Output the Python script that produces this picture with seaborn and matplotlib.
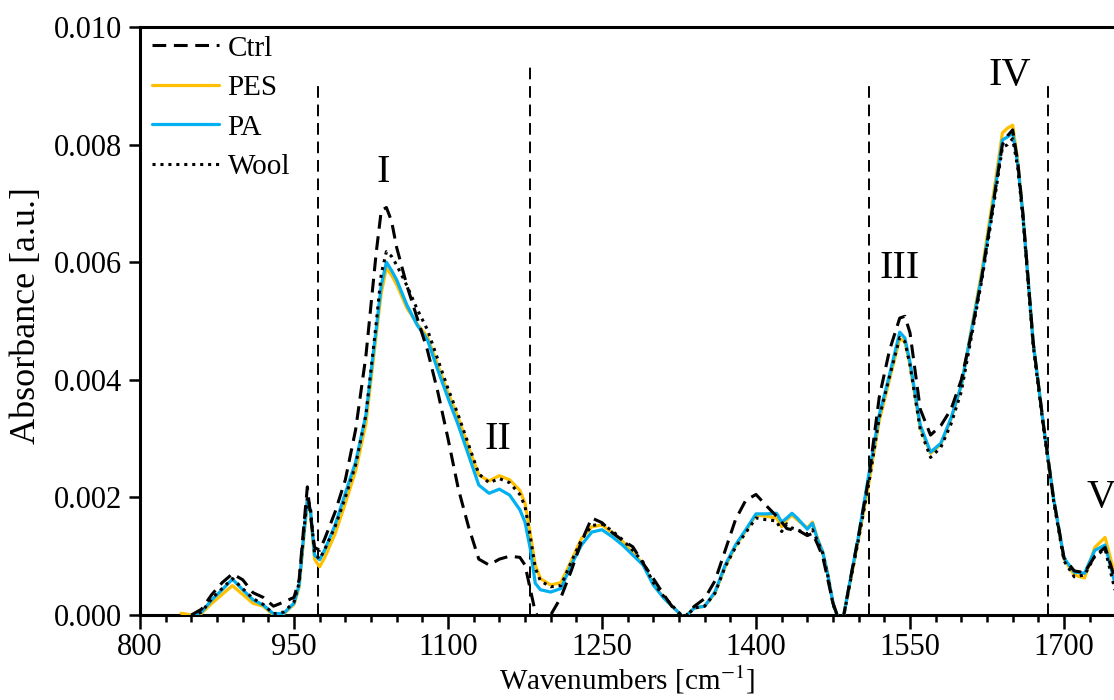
import numpy as np
import pandas as pd
import matplotlib
matplotlib.use("Agg")
import matplotlib.pyplot as plt
import seaborn as sns

# ---------------- data ----------------
wavenumber = [840, 850, 860, 870, 880, 890, 900, 910, 920, 930, 940, 950, 955, 960, 963, 966,
              970, 975, 980, 990, 1000, 1010, 1020, 1030, 1035, 1040, 1045, 1050, 1060, 1070,
              1080, 1090, 1100, 1110, 1120, 1130, 1140, 1150, 1160, 1170, 1175, 1180, 1185,
              1190, 1200, 1210, 1220, 1230, 1240, 1250, 1260, 1270, 1280, 1290, 1300, 1310,
              1320, 1330, 1340, 1350, 1360, 1370, 1380, 1390, 1400, 1410, 1420, 1425, 1430,
              1435, 1440, 1450, 1455, 1460, 1465, 1470, 1475, 1480, 1485, 1490, 1500, 1510,
              1520, 1530, 1540, 1545, 1550, 1560, 1570, 1580, 1590, 1600, 1610, 1620, 1630,
              1640, 1645, 1650, 1655, 1660, 1670, 1680, 1690, 1700, 1710, 1720, 1730, 1740,
              1750]

ctrl = [np.nan, 0.00000, 0.00010, 0.00035, 0.00055, 0.00070, 0.00060, 0.00038, 0.00030, 0.00015,
        0.00022, 0.00030, 0.00060, 0.00160, 0.00218, 0.00170, 0.00115, 0.00110, 0.00130, 0.00175,
        0.00230, 0.00315, 0.00440, 0.00615, 0.00688, 0.00693, 0.00670, 0.00625, 0.00560, 0.00505,
        0.00450, 0.00380, 0.00300, 0.00215, 0.00150, 0.00095, 0.00085, 0.00095, 0.00100, 0.00098,
        0.00085, 0.00045, 0.00005, -0.00010, 0.00000, 0.00030, 0.00075, 0.00125, 0.00165, 0.00157,
        0.00140, 0.00127, 0.00116, 0.00088, 0.00062, 0.00035, 0.00010, -0.00005, 0.00015, 0.00028,
        0.00058, 0.00110, 0.00162, 0.00195, 0.00205, 0.00186, 0.00168, 0.00158, 0.00147, 0.00145,
        0.00145, 0.00135, 0.00139, 0.00120, 0.00099, 0.00060, 0.00020, -0.00005, -0.00005, 0.00043,
        0.00136, 0.00235, 0.00370, 0.00450, 0.00505, 0.00508, 0.00480, 0.00350, 0.00306, 0.00322,
        0.00350, 0.00400, 0.00480, 0.00575, 0.00688, 0.00800, 0.00815, 0.00825, 0.00770, 0.00682,
        0.00463, 0.00323, 0.00196, 0.00097, 0.00075, 0.00072, 0.00100, 0.00115, 0.00060]

pes = [0.00003, 0.00000, 0.00003, 0.00020, 0.00035, 0.00050, 0.00035, 0.00020, 0.00015, 0.00000,
       0.00002, 0.00018, 0.00048, 0.00140, 0.00192, 0.00175, 0.00095, 0.00082, 0.00098, 0.00138,
       0.00190, 0.00245, 0.00325, 0.00475, 0.00548, 0.00590, 0.00578, 0.00562, 0.00522, 0.00495,
       0.00473, 0.00425, 0.00378, 0.00335, 0.00285, 0.00238, 0.00228, 0.00237, 0.00230, 0.00212,
       0.00190, 0.00140, 0.00085, 0.00062, 0.00051, 0.00055, 0.00092, 0.00130, 0.00150, 0.00153,
       0.00140, 0.00125, 0.00105, 0.00087, 0.00052, 0.00030, 0.00012, -0.00005, 0.00012, 0.00015,
       0.00037, 0.00082, 0.00117, 0.00143, 0.00170, 0.00168, 0.00165, 0.00150, 0.00162, 0.00170,
       0.00162, 0.00148, 0.00158, 0.00130, 0.00107, 0.00068, 0.00020, -0.00005, -0.00005, 0.00040,
       0.00130, 0.00225, 0.00330, 0.00400, 0.00470, 0.00465, 0.00425, 0.00318, 0.00275, 0.00290,
       0.00333, 0.00390, 0.00488, 0.00585, 0.00700, 0.00820, 0.00828, 0.00833, 0.00772, 0.00682,
       0.00463, 0.00323, 0.00196, 0.00095, 0.00068, 0.00063, 0.00115, 0.00132, 0.00065]

pa = [-0.00005, -0.00002, 0.00005, 0.00026, 0.00043, 0.00061, 0.00043, 0.00026, 0.00017, 0.00002,
      0.00003, 0.00020, 0.00051, 0.00145, 0.00196, 0.00179, 0.00102, 0.00094, 0.00111, 0.00153,
      0.00207, 0.00260, 0.00340, 0.00485, 0.00561, 0.00600, 0.00586, 0.00570, 0.00527, 0.00493,
      0.00468, 0.00417, 0.00369, 0.00323, 0.00272, 0.00221, 0.00207, 0.00214, 0.00204, 0.00179,
      0.00158, 0.00114, 0.00054, 0.00043, 0.00039, 0.00045, 0.00085, 0.00119, 0.00141, 0.00145,
      0.00133, 0.00119, 0.00102, 0.00085, 0.00051, 0.00029, 0.00012, -0.00005, 0.00012, 0.00015,
      0.00039, 0.00085, 0.00119, 0.00145, 0.00172, 0.00172, 0.00173, 0.00158, 0.00165, 0.00173,
      0.00165, 0.00146, 0.00156, 0.00128, 0.00107, 0.00068, 0.00020, -0.00005, -0.00005, 0.00043,
      0.00136, 0.00240, 0.00340, 0.00408, 0.00481, 0.00471, 0.00430, 0.00323, 0.00277, 0.00292,
      0.00335, 0.00391, 0.00485, 0.00578, 0.00689, 0.00808, 0.00813, 0.00820, 0.00766, 0.00680,
      0.00463, 0.00323, 0.00196, 0.00097, 0.00073, 0.00071, 0.00110, 0.00119, 0.00051]

wool = [np.nan, -0.00002, 0.00005, 0.00028, 0.00045, 0.00062, 0.00045, 0.00028, 0.00018, 0.00002,
        0.00005, 0.00022, 0.00055, 0.00150, 0.00200, 0.00182, 0.00105, 0.00095, 0.00112, 0.00150,
        0.00200, 0.00255, 0.00340, 0.00495, 0.00580, 0.00618, 0.00610, 0.00595, 0.00560, 0.00520,
        0.00485, 0.00435, 0.00385, 0.00340, 0.00290, 0.00240, 0.00225, 0.00232, 0.00225, 0.00205,
        0.00185, 0.00135, 0.00080, 0.00058, 0.00048, 0.00050, 0.00090, 0.00128, 0.00152, 0.00155,
        0.00143, 0.00128, 0.00110, 0.00090, 0.00055, 0.00032, 0.00013, -0.00005, 0.00012, 0.00015,
        0.00037, 0.00082, 0.00115, 0.00140, 0.00165, 0.00162, 0.00160, 0.00142, 0.00155, 0.00148,
        0.00145, 0.00138, 0.00145, 0.00125, 0.00105, 0.00066, 0.00018, -0.00005, -0.00005, 0.00040,
        0.00130, 0.00225, 0.00335, 0.00405, 0.00472, 0.00465, 0.00425, 0.00315, 0.00268, 0.00285,
        0.00325, 0.00380, 0.00475, 0.00570, 0.00680, 0.00795, 0.00800, 0.00810, 0.00760, 0.00675,
        0.00458, 0.00318, 0.00192, 0.00092, 0.00065, 0.00068, 0.00100, 0.00112, 0.00040]

series_names = ["Ctrl", "PES", "PA", "Wool"]
band_lines = [973, 1180, 1510, 1684]
band_line_tops = [0.00906, 0.00940, 0.00906, 0.00910]
band_labels = ["I", "II", "III", "IV", "V"]
band_label_x = [1037, 1149, 1540, 1647, 1736]
band_label_y = [0.00753, 0.00298, 0.00590, 0.00918, 0.00199]
x_ticks = [800, 950, 1100, 1250, 1400, 1550, 1700]
y_ticks = [0.000, 0.002, 0.004, 0.006, 0.008, 0.010]

# ---------------- style ----------------
sns.set_style("ticks")
plt.rcParams["font.family"] = ["Liberation Serif", "DejaVu Serif"]
plt.rcParams["mathtext.fontset"] = "stix"
plt.rcParams["text.color"] = "black"
plt.rcParams["axes.labelcolor"] = "black"
plt.rcParams["xtick.color"] = "black"
plt.rcParams["ytick.color"] = "black"

fig = plt.figure(figsize=(11.14, 7.0), dpi=100)
ax = fig.add_axes([140 / 1114, 1 - 615 / 700, 974 / 1114, (615 - 27) / 700])

df = pd.DataFrame({"x": wavenumber, "Ctrl": ctrl, "PES": pes, "PA": pa, "Wool": wool})

styles = {
    "Ctrl": dict(color="black", linestyle=(0, (4.5, 2.5)), linewidth=2.2, zorder=5),
    "PES": dict(color="#FFC000", linestyle="-", linewidth=2.3, zorder=3),
    "PA": dict(color="#00B0F0", linestyle="-", linewidth=2.3, zorder=4),
    "Wool": dict(color="black", linestyle=(0, (1, 1.6)), linewidth=2.2, zorder=6),
}
for name in series_names:
    sns.lineplot(data=df, x="x", y=name, ax=ax, label=name, **styles[name])

ax.vlines(band_lines, 0, band_line_tops, colors="black",
          linestyles=(0, (6, 3.5)), linewidth=1.4, zorder=2)

for lab, lx, ly in zip(band_labels, band_label_x, band_label_y):
    ax.text(lx, ly, lab, fontsize=29, ha="center", va="center", clip_on=False, color="black")

ax.set_xlim(800, 1748.7)
ax.set_ylim(0, 0.010)
ax.set_xticks(x_ticks)
ax.set_xticks(np.arange(800, 1750, 25), minor=True)
ax.set_yticks(y_ticks)
ax.set_yticklabels([f"{v:.3f}" for v in y_ticks])
ax.tick_params(axis="both", which="major", labelsize=22, width=1.8, length=8, direction="out",
               color="black", labelcolor="black", pad=5)
ax.tick_params(axis="x", which="minor", width=1.8, length=5, direction="out", color="black")
ax.tick_params(axis="x", which="major", length=10, pad=3)

for s in ["left", "bottom", "top"]:
    ax.spines[s].set_linewidth(2.2)
    ax.spines[s].set_color("black")
ax.spines["right"].set_visible(False)

ax.set_xlabel(r"Wavenumbers [cm$^{-1}$]", fontsize=21, labelpad=1, color="black")
ax.set_ylabel("Absorbance [a.u.]", fontsize=26, labelpad=4, color="black")
ax.yaxis.set_label_coords(-0.1, 0.51)

leg = ax.legend(loc="upper left", frameon=False, fontsize=21, handlelength=2.3,
                handletextpad=0.3, labelspacing=0.45, borderaxespad=0.0,
                bbox_to_anchor=(0.0, 1.006), labelcolor="black")

fig.savefig("out.png", dpi=100)
